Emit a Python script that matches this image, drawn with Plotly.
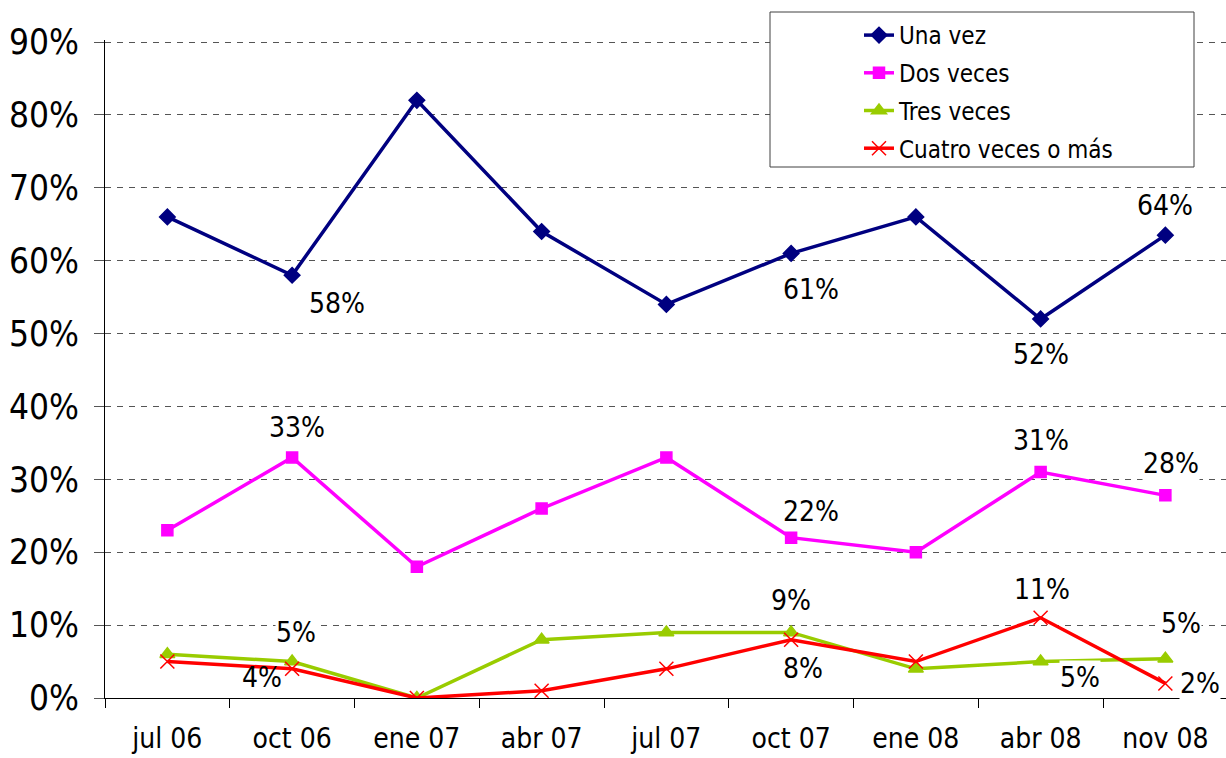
import plotly.graph_objects as go

# ---------------- data ----------------
categories = ["jul 06", "oct 06", "ene 07", "abr 07", "jul 07", "oct 07", "ene 08", "abr 08", "nov 08"]
series_names = ["Una vez", "Dos veces", "Tres veces", "Cuatro veces o más"]
una_vez = [66, 58, 82, 64, 54, 61, 66, 52, 63.5]
dos_veces = [23, 33, 18, 26, 33, 22, 20, 31, 27.8]
tres_veces = [6, 5, 0, 8, 9, 9, 4, 5, 5.4]
cuatro_veces = [5, 4, 0, 1, 4, 8, 5, 11, 2]
# data labels shown in the chart (None = no label)
una_labels = [None, "58%", None, None, None, "61%", None, "52%", "64%"]
dos_labels = [None, "33%", None, None, None, "22%", None, "31%", "28%"]
tres_labels = [None, "5%", None, None, None, "9%", None, "5%", "5%"]
cuatro_labels = [None, "4%", None, None, None, "8%", None, "11%", "2%"]
y_ticks = [0, 10, 20, 30, 40, 50, 60, 70, 80, 90]
y_tick_text = ["0%", "10%", "20%", "30%", "40%", "50%", "60%", "70%", "80%", "90%"]

# ---------------- style ----------------
FONT = "DejaVu Sans Condensed, DejaVu Sans, sans-serif"
colors = ["#000080", "#FF00FF", "#99CC00", "#FF0000"]
symbols = ["diamond", "square", "triangle-up", "x-thin"]
msizes = [12, 11, 13, 14]
# label offsets (pixels, dx right, dy down) per series, per point
offsets = [
    [None, (45, 28), None, None, None, (20, 36), None, (0, 36), (0, -30)],
    [None, (5, -30), None, None, None, (20, -26), None, (0, -32), (6, -32)],
    [None, (4, -29), None, None, None, (0, -32), None, (39, 16), (16, -35)],
    [None, (-30, 9), None, None, None, (12, 29), None, (1, -28), (35, 0)],
]
# label background (white boxes hide what lies beneath, as in the original)
label_bg = [
    [None, "white", None, None, None, "white", None, "white", "white"],
    [None, "white", None, None, None, "white", None, "white", "white"],
    [None, "white", None, None, None, "white", None, "white", "white"],
    [None, "rgba(0,0,0,0)", None, None, None, "white", None, "white", "white"],
]

L, T, B = 105, 40, 60
W_FIG, H_FIG = 1226, 758
PW = W_FIG - L
PH = H_FIG - T - B
Y_TOP = 90 * PH / (PH - 2)   # 90% line sits 2px below the plot top

def px_x(px):
    return (px - L) / PW

def px_y(py):
    return (H_FIG - B - py) / PH

fig = go.Figure()
values = [una_vez, dos_veces, tres_veces, cuatro_veces]
labels = [una_labels, dos_labels, tres_labels, cuatro_labels]

for i, (name, vals) in enumerate(zip(series_names, values)):
    fig.add_trace(go.Scatter(
        x=categories, y=vals, name=name, mode="lines+markers",
        legendgroup=f"g{i}",
        line=dict(color=colors[i], width=3.5),
        marker=dict(symbol=symbols[i], size=msizes[i], color=colors[i],
                    line=dict(color=colors[i], width=1.5)),
    ))

annotations = []
for i, (vals, labs) in enumerate(zip(values, labels)):
    for j, lab in enumerate(labs):
        if lab is None:
            continue
        dx, dy = offsets[i][j]
        annotations.append(dict(
            x=categories[j], y=vals[j], xref="x", yref="y", text=lab,
            showarrow=False, xshift=dx, yshift=-dy,
            font=dict(family=FONT, size=28, color="black"),
            bgcolor=label_bg[i][j], borderpad=0,
        ))

shapes = [dict(
    type="rect", xref="paper", yref="paper",
    x0=px_x(770), x1=px_x(1194), y0=px_y(167), y1=px_y(12),
    line=dict(color="#404040", width=1), fillcolor="white", layer="above",
)]

spacing = 124.75
fig.update_layout(
    width=W_FIG, height=H_FIG,
    margin=dict(l=L, r=0, t=T, b=B, pad=0, autoexpand=False),
    paper_bgcolor="white", plot_bgcolor="white",
    font=dict(family=FONT, color="black"),
    showlegend=True,
    legend=dict(
        x=px_x(859), y=px_y(13), xanchor="left", yanchor="top",
        bgcolor="rgba(0,0,0,0)", borderwidth=0,
        font=dict(family=FONT, size=24, color="black"),
        tracegroupgap=3.5, traceorder="grouped",
    ),
    annotations=annotations,
    shapes=shapes,
    xaxis=dict(
        type="category", range=[-0.5, -0.5 + PW / spacing],
        showline=True, linecolor="black", linewidth=1,
        ticks="outside", ticklen=9, tickcolor="black", tickson="boundaries",
        showgrid=False, zeroline=False, automargin=False,
        tickfont=dict(family=FONT, size=28, color="black"),
        ticklabelstandoff=15,
    ),
    yaxis=dict(
        range=[0, Y_TOP], tickvals=y_ticks, ticktext=y_tick_text,
        showline=True, linecolor="black", linewidth=1,
        ticks="outside", ticklen=10, tickcolor="#555555",
        showgrid=True, gridcolor="#555555", gridwidth=1, griddash="6px,6px",
        zeroline=False, automargin=False,
        tickfont=dict(family=FONT, size=35, color="black"),
        ticklabelstandoff=8,
    ),
)

fig.write_html("out.html", config={"displayModeBar": False},
               post_script="document.body.style.margin='0';")
